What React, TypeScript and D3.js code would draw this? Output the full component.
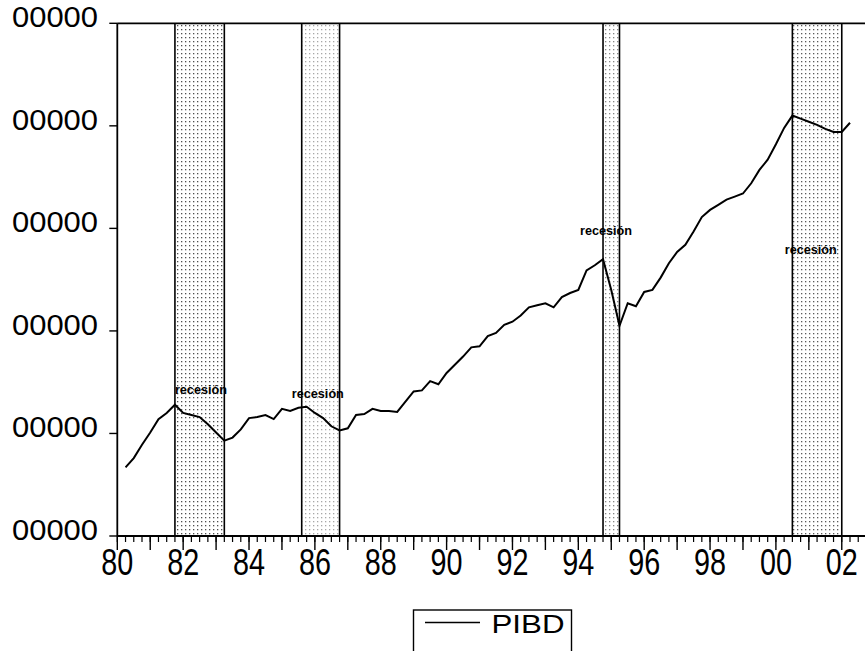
import React from "react";
import * as d3 from "d3";

// ---- data ----
const startQuarter = 1980.25; // 1980Q2
const pibd = [
  0.67, 0.76, 0.89, 1.01, 1.14, 1.2, 1.28, 1.2, 1.18, 1.16, 1.09, 1.01, 0.93, 0.96, 1.04,
  1.15, 1.16, 1.18, 1.14, 1.24, 1.22, 1.25, 1.26, 1.2, 1.15, 1.07, 1.03, 1.05, 1.18, 1.19,
  1.24, 1.22, 1.22, 1.21, 1.31, 1.41, 1.42, 1.51, 1.48, 1.59, 1.67, 1.75, 1.84, 1.85, 1.95,
  1.98, 2.06, 2.09, 2.15, 2.23, 2.25, 2.27, 2.23, 2.33, 2.37, 2.4, 2.59, 2.64, 2.7, 2.4,
  2.05, 2.27, 2.24, 2.38, 2.4, 2.52, 2.66, 2.77, 2.84, 2.97, 3.11, 3.18, 3.23, 3.28, 3.31,
  3.34, 3.44, 3.57, 3.67, 3.82, 3.98, 4.1, 4.07, 4.04, 4.01, 3.97, 3.94, 3.94, 4.03,
];
const yTickValues = [0, 1, 2, 3, 4, 5];
const yTickLabels = ["00000", "00000", "00000", "00000", "00000", "00000"];
const xLabelYears = [1980, 1982, 1984, 1986, 1988, 1990, 1992, 1994, 1996, 1998, 2000, 2002];
const xLabelTexts = ["80", "82", "84", "86", "88", "90", "92", "94", "96", "98", "00", "02"];
const recessionStarts = [1981.75, 1985.6, 1994.75, 2000.5];
const recessionEnds = [1983.25, 1986.75, 1995.25, 2002.0];
const recessionLabelYears = [1981.75, 1985.3, 1994.05, 2000.27];
const recessionLabelValues = [1.38, 1.35, 2.94, 2.75];
const recessionLabel = "recesión";
const seriesName = "PIBD";

// styles
const bandDotOpacity = [0.8, 0.4, 0.55, 0.75];
const W = 865;
const H = 651;

export default function App() {
  const x = d3.scaleLinear().domain([1980, 2003]).range([117.3, 874.7]);
  const y = d3.scaleLinear().domain([0, 5]).range([536, 23.3]);
  const dates = pibd.map((_, i) => startQuarter + i * 0.25);
  const line = d3
    .line<number>()
    .x((_, i) => x(dates[i]))
    .y((d) => y(d))
    .curve(d3.curveLinear);

  const quarterTicks = d3.range(1980, 2003, 0.25);
  const yearTicks = d3.range(1980, 2003, 1);
  const font = "Arial, 'Liberation Sans', Helvetica, sans-serif";

  return (
    <svg
      width={W}
      height={H}
      style={{ position: "absolute", left: 0, top: 0, background: "#fff" }}
      fontFamily={font}
    >
      <defs>
        {bandDotOpacity.map((op, i) => (
          <pattern key={"p" + i} id={"dots" + i} width="4" height="4" patternUnits="userSpaceOnUse">
            <rect x="1" y="1" width="1.3" height="1.3" fill="#222" opacity={op} />
          </pattern>
        ))}
        <clipPath id="plot">
          <rect x={x(1980)} y={y(5)} width={W - x(1980)} height={y(0) - y(5)} />
        </clipPath>
      </defs>
      <rect width={W} height={H} fill="#fff" />

      {/* recession bands */}
      {recessionStarts.map((s, i) => (
        <g key={"rec" + i}>
          <rect
            x={x(s)}
            y={y(5)}
            width={x(recessionEnds[i]) - x(s)}
            height={y(0) - y(5)}
            fill={`url(#dots${i})`}
          />
          <line x1={x(s)} x2={x(s)} y1={y(5)} y2={y(0)} stroke="#000" strokeWidth={1.6} />
          <line
            x1={x(recessionEnds[i])}
            x2={x(recessionEnds[i])}
            y1={y(5)}
            y2={y(0)}
            stroke="#000"
            strokeWidth={1.6}
          />
        </g>
      ))}

      {/* series */}
      <path d={line(pibd) || ""} fill="none" stroke="#000" strokeWidth={2} clipPath="url(#plot)" />

      {/* recession labels */}
      {recessionLabelYears.map((yr, i) => (
        <text
          key={"rl" + i}
          x={x(yr)}
          y={y(recessionLabelValues[i])}
          fontSize={13}
          fontWeight="bold"
          textLength={52}
          lengthAdjust="spacingAndGlyphs"
          fill="#000"
        >
          {recessionLabel}
        </text>
      ))}

      {/* frame: top, left, bottom */}
      <line x1={x(1980)} x2={W} y1={y(5)} y2={y(5)} stroke="#000" strokeWidth={1.8} />
      <line x1={x(1980)} x2={x(1980)} y1={y(5)} y2={y(0)} stroke="#000" strokeWidth={1.8} />
      <line x1={x(1980)} x2={W} y1={y(0)} y2={y(0)} stroke="#000" strokeWidth={1.8} />

      {/* y axis */}
      {yTickValues.map((v, i) => (
        <g key={"yt" + i}>
          <line x1={x(1980) - 8} x2={x(1980)} y1={y(v)} y2={y(v)} stroke="#000" strokeWidth={1.4} />
          <text
            x={98}
            y={y(v) + 4}
            fontSize={29}
            textAnchor="end"
            textLength={86}
            lengthAdjust="spacingAndGlyphs"
            fill="#000"
          >
            {yTickLabels[i]}
          </text>
        </g>
      ))}

      {/* x axis ticks */}
      {quarterTicks.map((t, i) => (
        <line key={"qt" + i} x1={x(t)} x2={x(t)} y1={y(0)} y2={y(0) + 6} stroke="#000" strokeWidth={1.2} />
      ))}
      {yearTicks.map((t, i) => (
        <line key={"yr" + i} x1={x(t)} x2={x(t)} y1={y(0)} y2={y(0) + 14} stroke="#000" strokeWidth={1.4} />
      ))}
      {xLabelYears.map((yr, i) => (
        <text
          key={"xl" + i}
          x={x(yr)}
          y={575}
          fontSize={37}
          textAnchor="middle"
          textLength={32}
          lengthAdjust="spacingAndGlyphs"
          fill="#000"
        >
          {xLabelTexts[i]}
        </text>
      ))}

      {/* legend */}
      <rect x={413.5} y={610} width={158} height={60} fill="#fff" stroke="#000" strokeWidth={1.4} />
      <line x1={425} x2={480} y1={622.5} y2={622.5} stroke="#000" strokeWidth={1.4} />
      <text
        x={491.5}
        y={633}
        fontSize={25}
        textLength={73}
        lengthAdjust="spacingAndGlyphs"
        fill="#000"
      >
        {seriesName}
      </text>
    </svg>
  );
}
